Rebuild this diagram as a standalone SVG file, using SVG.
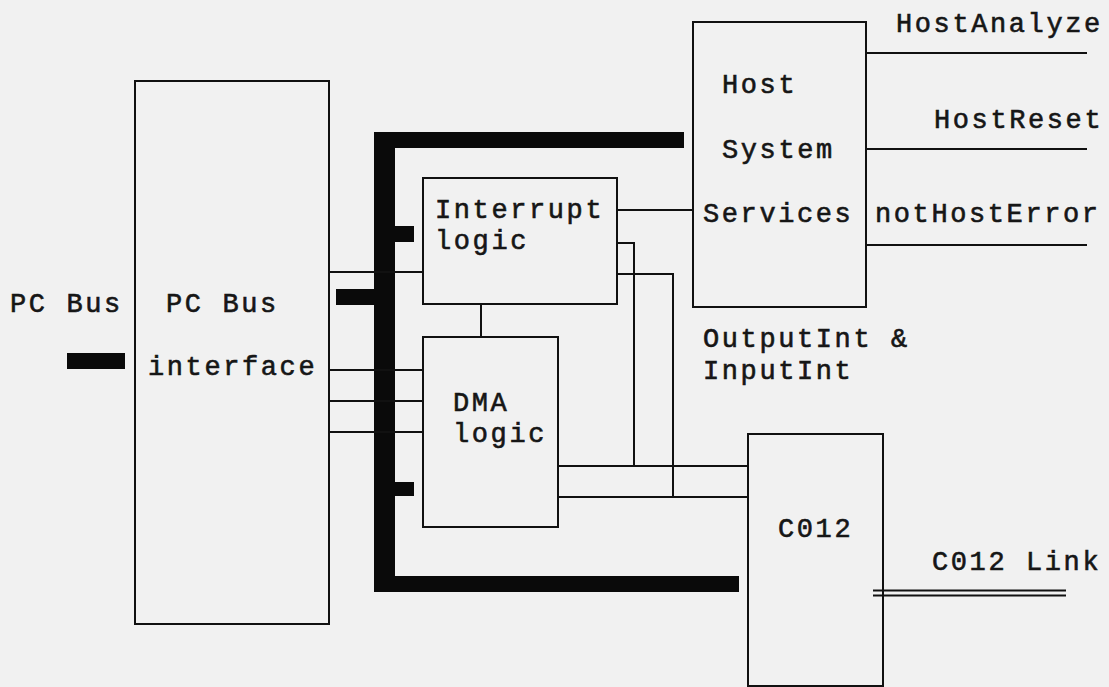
<svg xmlns="http://www.w3.org/2000/svg" width="1109" height="687" viewBox="0 0 1109 687">
  <style>
    .box { fill: none; stroke: #111; stroke-width: 2; }
    .wire { fill: none; stroke: #111; stroke-width: 2; }
    .bus { fill: #0a0a0a; }
    .lbl { font-family: "Liberation Mono", "Courier New", monospace; font-size: 27px; letter-spacing: 2.6px; fill: #161616; stroke: #161616; stroke-width: 0.6px; }
  </style>

  <!-- paper -->
  <rect x="0" y="0" width="1109" height="687" fill="#f1f1f1"/>

  <!-- wide data bus and its stubs -->
  <g id="bus">
    <rect class="bus" x="374" y="132" width="21" height="460"/>
    <rect class="bus" x="374" y="132" width="310" height="16"/>
    <rect class="bus" x="374" y="576" width="365" height="16"/>
    <rect class="bus" x="395" y="226" width="19" height="16"/>
    <rect class="bus" x="336" y="289" width="38" height="16"/>
    <rect class="bus" x="395" y="482" width="19" height="14"/>
    <rect class="bus" x="67" y="353" width="58" height="16"/>
  </g>

  <!-- signal wiring -->
  <g id="connectors">
    <path class="wire" d="M329 272 H423"/>
    <path class="wire" d="M329 370 H423"/>
    <path class="wire" d="M329 401 H423"/>
    <path class="wire" d="M329 432 H423"/>
    <path class="wire" d="M481 304 V337"/>
    <path class="wire" d="M617 210 H693"/>
    <path class="wire" d="M617 243 H634 V466"/>
    <path class="wire" d="M617 274 H673 V497"/>
    <path class="wire" d="M558 466 H748"/>
    <path class="wire" d="M558 497 H748"/>
    <path class="wire" d="M866 53 H1087"/>
    <path class="wire" d="M866 149 H1087"/>
    <path class="wire" d="M866 245 H1087"/>
    <path class="wire" stroke-width="1.6" d="M873 590.5 H1066 M873 595.5 H1066"/>
  </g>

  <g id="pc-bus-label">
    <text class="lbl" x="10" y="312">PC Bus</text>
  </g>

  <g id="pc-bus-interface">
    <rect class="box" x="135" y="81" width="194" height="543"/>
    <text class="lbl" x="166" y="312">PC Bus</text>
    <text class="lbl" x="148" y="375">interface</text>
  </g>

  <g id="interrupt-logic">
    <rect class="box" x="423" y="178" width="194" height="126"/>
    <text class="lbl" x="435" y="218">Interrupt</text>
    <text class="lbl" x="435" y="249">logic</text>
  </g>

  <g id="dma-logic">
    <rect class="box" x="423" y="337" width="135" height="190"/>
    <text class="lbl" x="453" y="411">DMA</text>
    <text class="lbl" x="453" y="442">logic</text>
  </g>

  <g id="host-system-services">
    <rect class="box" x="693" y="22" width="173" height="285"/>
    <text class="lbl" x="722" y="93">Host</text>
    <text class="lbl" x="722" y="158">System</text>
    <text class="lbl" x="703" y="222">Services</text>
  </g>

  <g id="host-signals">
    <text class="lbl" x="896" y="32">HostAnalyze</text>
    <text class="lbl" x="934" y="128">HostReset</text>
    <text class="lbl" x="875" y="222">notHostError</text>
  </g>

  <g id="int-label">
    <text class="lbl" x="703" y="347">OutputInt &amp;</text>
    <text class="lbl" x="703" y="379">InputInt</text>
  </g>

  <g id="c012">
    <rect class="box" x="748" y="434" width="135" height="252"/>
    <text class="lbl" x="778" y="537">C012</text>
  </g>

  <g id="c012-link">
    <text class="lbl" x="932" y="570">C012 Link</text>
  </g>
</svg>
